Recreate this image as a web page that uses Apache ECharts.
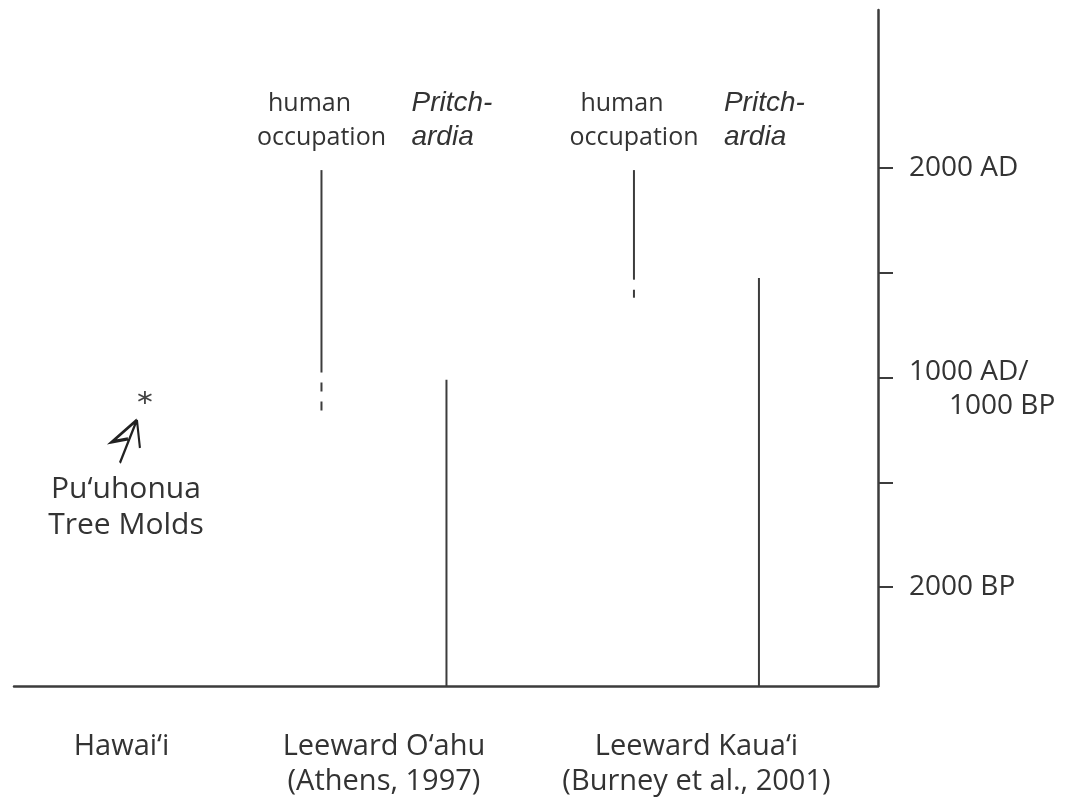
<!DOCTYPE html>
<html>
<head>
<meta charset="utf-8">
<script src="https://cdn.jsdelivr.net/npm/echarts@6/dist/echarts.min.js"></script>
<style>
  html, body { margin: 0; padding: 0; background: #fff; }
  #chart { width: 1065px; height: 802px; }
</style>
</head>
<body>
<div id="chart"></div>
<script>
// sites along the bottom (x in "site units")
const siteNames = ['Hawai\u2018i', 'Leeward O\u2018ahu\n(Athens, 1997)', 'Leeward Kaua\u2018i\n(Burney et al., 2001)']
const siteX = [0.16, 1, 2]
const recordOffset = 0.2 // human record left of site, Pritchardia right

// time axis (years AD, negative = BC)
const yearMin = -472
const yearMax = 2754
const tickYears = [0, 500, 1000, 1500, 2000]
const labelYears = [0, 1000, 2000]
const tickLabels = { 2000: '2000 AD', 1000: '{s| }\n{a|1000 AD/}\n{b|1000 BP}', 0: '2000 BP' }

// records: [top, bottom] in years AD
const oahuHuman = [1990, 1024]
const oahuHumanUncertain = [976, 843]
const oahuPritchardia = [990, yearMin]
const kauaiHuman = [1990, 1467]
const kauaiHumanUncertain = [1419, 1381]
const kauaiPritchardia = [1475, yearMin]

// Pu'uhonua tree molds date (asterisk)
const treeMold = [0.235, 905]
const headerYear = 2226

const ink = '#3c3c3c'
const font = '"Open Sans", "Noto Sans", sans-serif'

function vline(name, x, range, dashed) {
  return {
    name: name,
    type: 'line',
    data: [[x, range[0]], [x, range[1]]],
    symbol: 'none',
    silent: true,
    lineStyle: { color: ink, width: 2, type: dashed ? [9, 10] : 'solid' }
  }
}

const oahuX = siteX[1]
const kauaiX = siteX[2]

const chart = echarts.init(document.getElementById('chart'))
chart.setOption({
  animation: false,
  backgroundColor: '#fff',
  grid: { left: 14, right: 187, top: 10, bottom: 116, containLabel: false, outerBoundsMode: 'none' },
  xAxis: {
    type: 'value',
    min: -0.184,
    max: 2.581,
    splitLine: { show: false },
    axisTick: { show: false },
    axisLine: { onZero: false, lineStyle: { color: ink, width: 2.5 } },
    axisLabel: {
      customValues: siteX,
      margin: 43,
      color: '#333',
      fontFamily: font,
      fontSize: 29,
      lineHeight: 35,
      formatter: function(v) {
        const i = siteX.findIndex(s => Math.abs(s - v) < 1e-6)
        return i >= 0 ? siteNames[i] : ''
      }
    }
  },
  yAxis: {
    type: 'value',
    position: 'right',
    min: yearMin,
    max: yearMax,
    splitLine: { show: false },
    axisLine: { show: true, onZero: false, lineStyle: { color: ink, width: 2.5 } },
    axisTick: { show: true, customValues: tickYears, length: 15, lineStyle: { color: ink, width: 2 } },
    axisLabel: {
      customValues: labelYears,
      margin: 31,
      color: '#333',
      fontFamily: font,
      fontSize: 28,
      lineHeight: 34,
      formatter: function(v) { return tickLabels[v] || '' },
      rich: {
        s: { fontSize: 1, lineHeight: 22 },
        a: { fontFamily: font, fontSize: 28, color: '#333', lineHeight: 34 },
        b: { fontFamily: font, fontSize: 28, color: '#333', lineHeight: 34, padding: [0, 0, 0, 40] }
      }
    }
  },
  series: [
    vline('Oahu human occupation', oahuX - recordOffset, oahuHuman, false),
    vline('Oahu human occupation (uncertain)', oahuX - recordOffset, oahuHumanUncertain, true),
    vline('Oahu Pritchardia', oahuX + recordOffset, oahuPritchardia, false),
    vline('Kauai human occupation', kauaiX - recordOffset, kauaiHuman, false),
    vline('Kauai human occupation (uncertain)', kauaiX - recordOffset, kauaiHumanUncertain, true),
    vline('Kauai Pritchardia', kauaiX + recordOffset, kauaiPritchardia, false),
    {
      name: 'human headers',
      type: 'scatter',
      symbolSize: 0,
      silent: true,
      itemStyle: { opacity: 1 },
      data: [[oahuX - recordOffset, headerYear], [kauaiX - recordOffset, headerYear]],
      label: {
        show: true,
        position: 'inside',
        formatter: '{h|human}\n{o|occupation}',
        rich: {
          h: { color: '#333', fontFamily: font, fontSize: 25, lineHeight: 34, padding: [0, 24, 0, 0] },
          o: { color: '#333', fontFamily: font, fontSize: 25, lineHeight: 34 }
        }
      }
    },
    {
      name: 'Pritchardia headers',
      type: 'scatter',
      symbolSize: 0,
      silent: true,
      itemStyle: { opacity: 1 },
      data: [[oahuX + recordOffset, headerYear], [kauaiX + recordOffset, headerYear]],
      label: {
        show: true,
        position: 'inside',
        align: 'left',
        offset: [-35, 0],
        formatter: 'Pritch-\nardia',
        color: '#333',
        fontFamily: '"Liberation Sans", Arial, sans-serif',
        fontStyle: 'italic',
        fontSize: 28,
        lineHeight: 34
      }
    },
    {
      name: 'tree mold date',
      type: 'scatter',
      silent: true,
      data: [treeMold],
      symbol: 'path://M6,0 L6,12 M0,3 L12,9 M0,9 L12,3',
      symbolSize: [13, 13],
      itemStyle: { color: 'none', borderColor: '#444', borderWidth: 1.8, opacity: 1 }
    },
    {
      name: 'tree mold arrow',
      type: 'scatter',
      silent: true,
      data: [treeMold],
      symbol: 'path://M25,0 L8,43 M25,0 L0,22 L16,19 M25,0 L28,28',
      symbolSize: [28, 43],
      symbolOffset: [-19, 44],
      itemStyle: { color: 'none', borderColor: '#222', borderWidth: 2.6, opacity: 1 },
      label: {
        show: true,
        position: 'inside',
        offset: [0, 66],
        formatter: 'Pu\u2018uhonua\nTree Molds',
        color: '#333',
        fontFamily: font,
        fontSize: 30,
        lineHeight: 36
      }
    }
  ]
})
</script>
</body>
</html>
